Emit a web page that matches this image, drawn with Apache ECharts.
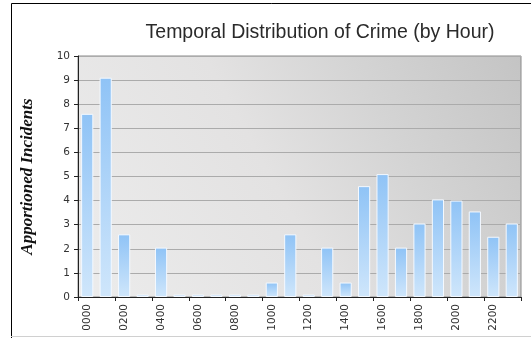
<!DOCTYPE html>
<html>
<head>
<meta charset="utf-8">
<script src="https://cdn.jsdelivr.net/npm/echarts@6/dist/echarts.min.js"></script>
<style>
  html, body { margin: 0; padding: 0; background: #ffffff; }
  #chart { width: 531px; height: 338px; }
</style>
</head>
<body>
<div id="chart"></div>
<script>
// Hour-of-day buckets and apportioned incident counts
const hours = ['0000','0100','0200','0300','0400','0500','0600','0700','0800','0900','1000','1100',
               '1200','1300','1400','1500','1600','1700','1800','1900','2000','2100','2200','2300'];
const incidents = [7.6, 9.1, 2.6, 0.1, 2.05, 0.1, 0.1, 0.1, 0.1, 0.1, 0.6, 2.6,
                   0.1, 2.05, 0.6, 4.6, 5.1, 2.05, 3.05, 4.05, 4.0, 3.55, 2.5, 3.05];
const yTicks = { min: 0, max: 10, step: 1 };

const chart = echarts.init(document.getElementById('chart'));

chart.setOption({
  animation: false,
  backgroundColor: '#ffffff',
  title: {
    text: 'Temporal Distribution of Crime (by Hour)',
    left: 315,
    textAlign: 'center',
    top: 18,
    textStyle: {
      fontFamily: '"Liberation Sans Narrow", "Liberation Sans", Arial, sans-serif',
      fontSize: 19.5,
      fontWeight: 'normal',
      color: '#2a2a2a'
    }
  },
  graphic: [
    // outer frame of the chart object
    {
      type: 'polyline',
      shape: { points: [[11.5, 338], [11.5, 3.5], [531, 3.5]] },
      style: { stroke: '#000000', lineWidth: 1, fill: null }
    },
    {
      type: 'line',
      shape: { x1: 11, y1: 336.5, x2: 531, y2: 336.5 },
      style: { stroke: '#d0d0d0', lineWidth: 1 }
    }
  ],
  grid: {
    left: 78,
    right: 10,
    top: 56,
    bottom: 41,
    show: true,
    borderColor: '#8a8a8a',
    borderWidth: 1,
    backgroundColor: new echarts.graphic.LinearGradient(0, 1, 1, 0, [
      { offset: 0, color: '#ececec' },
      { offset: 0.45, color: '#e3e2e2' },
      { offset: 0.7, color: '#d4d4d4' },
      { offset: 1, color: '#c4c4c4' }
    ])
  },
  xAxis: {
    type: 'category',
    data: hours,
    boundaryGap: true,
    axisLine: { lineStyle: { color: '#222222', width: 1 } },
    axisTick: { show: true, alignWithLabel: false, length: 4, lineStyle: { color: '#222222' } },
    axisLabel: {
      interval: 1,
      rotate: 90,
      margin: 7,
      fontFamily: '"DejaVu Sans", Verdana, sans-serif',
      fontSize: 10.5,
      color: '#333333'
    },
    splitLine: { show: false }
  },
  yAxis: {
    type: 'value',
    min: yTicks.min,
    max: yTicks.max,
    interval: yTicks.step,
    name: 'Apportioned Incidents',
    nameLocation: 'middle',
    nameGap: 42,
    nameRotate: 90,
    nameTextStyle: {
      fontFamily: '"Liberation Serif", "Times New Roman", serif',
      fontStyle: 'italic',
      fontWeight: 'bold',
      fontSize: 17,
      color: '#111111'
    },
    axisLine: { show: true, lineStyle: { color: '#222222', width: 1 } },
    axisTick: { show: true, length: 4, lineStyle: { color: '#222222' } },
    axisLabel: {
      margin: 8,
      fontFamily: '"DejaVu Sans", Verdana, sans-serif',
      fontSize: 10.5,
      color: '#333333'
    },
    splitLine: { show: true, lineStyle: { color: '#ababab', width: 1 } }
  },
  series: [{
    type: 'bar',
    data: incidents,
    barCategoryGap: '34%',
    itemStyle: {
      color: new echarts.graphic.LinearGradient(0, 0, 0, 1, [
        { offset: 0, color: '#8fc3f6' },
        { offset: 1, color: '#cfe6fb' }
      ]),
      borderColor: '#f4f9ff',
      borderWidth: 1
    }
  }]
});
</script>
</body>
</html>
